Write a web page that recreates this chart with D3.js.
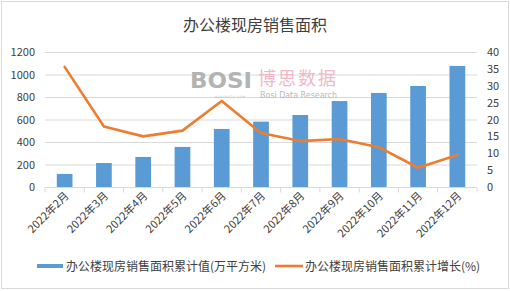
<!DOCTYPE html>
<html><head><meta charset="utf-8">
<script src="https://cdn.jsdelivr.net/npm/d3@7"></script>
<style>body{margin:0;background:#fff;}svg{display:block;font-family:"Microsoft YaHei","Noto Sans CJK SC",sans-serif;}</style>
</head><body>
<svg id="c" width="510" height="291"></svg>
<script>
const categories = ["2022年2月","2022年3月","2022年4月","2022年5月","2022年6月","2022年7月","2022年8月","2022年9月","2022年10月","2022年11月","2022年12月"];
const areaValues = [116, 213, 267, 356, 516, 581, 640, 764, 836, 898, 1076];
const growthValues = [35.6, 17.9, 15.0, 16.7, 25.5, 16.0, 13.6, 14.2, 11.8, 5.7, 9.5];
const leftTicks = [0,200,400,600,800,1000,1200];
const rightTicks = [0,5,10,15,20,25,30,35,40];
const title = "办公楼现房销售面积";
const seriesNames = ["办公楼现房销售面积累计值(万平方米)","办公楼现房销售面积累计增长(%)"];

const svg = d3.select("#c");
const W=510,H=291;
const m={l:45,r:477,t:52,b:187};
const blue="#5B9BD5", orange="#ED7D31";

svg.append("rect").attr("x",1.5).attr("y",1.5).attr("width",W-3).attr("height",H-4).attr("fill","#fff").attr("stroke","#D9D9D9");

svg.append("text").attr("x",W/2).attr("y",31).attr("text-anchor","middle").attr("font-size",16).attr("fill","#404040").text(title);

const x=d3.scaleBand().domain(categories).range([m.l,m.r]).paddingInner(0.6).paddingOuter(0.3);
const xb=d3.scaleBand().domain(categories).range([m.l,m.r]);
const yL=d3.scaleLinear().domain([0,1200]).range([m.b,m.t]);
const yR=d3.scaleLinear().domain([0,40]).range([m.b,m.t]);

// gridlines
svg.append("g").selectAll("line").data(leftTicks.slice(1)).join("line")
 .attr("x1",m.l).attr("x2",m.r).attr("y1",d=>yL(d)+0.5).attr("y2",d=>yL(d)+0.5).attr("stroke","#D9D9D9");

// watermark
const wm=svg.append("g");
wm.append("text").attr("x",190).attr("y",88).attr("font-size",22).attr("font-weight","bold").attr("fill","#b3b3b3").attr("font-family","DejaVu Sans, sans-serif").attr("textLength",62).attr("lengthAdjust","spacingAndGlyphs").text("BOSI");
wm.append("text").attr("x",215).attr("y",97.5).attr("font-size",3).attr("fill","#bbb").attr("font-family","DejaVu Sans").attr("textLength",30).text("BOSIDATA.COM");
wm.append("text").attr("x",258).attr("y",85).attr("font-size",18).attr("fill","#f0b8c8").attr("textLength",78).text("博思数据");
wm.append("text").attr("x",260).attr("y",98).attr("font-size",8).attr("fill","#b8b8b8").attr("font-family","DejaVu Sans, sans-serif").attr("textLength",77).attr("lengthAdjust","spacingAndGlyphs").text("Bosi Data Research");

// bars
svg.append("g").selectAll("rect").data(areaValues).join("rect")
 .attr("x",(d,i)=>x(categories[i])).attr("width",x.bandwidth())
 .attr("y",d=>yL(d)).attr("height",d=>yL(0)-yL(d)).attr("fill",blue);

// x axis line and ticks
const xa=svg.append("g").attr("transform",`translate(0,${m.b+0.5})`);
xa.append("line").attr("x1",m.l).attr("x2",m.r).attr("stroke","#D9D9D9");
xa.selectAll("line.t").data(categories.concat([null])).join("line").attr("class","t")
 .attr("x1",(d,i)=>m.l+i*xb.step()).attr("x2",(d,i)=>m.l+i*xb.step()).attr("y1",0).attr("y2",5).attr("stroke","#D9D9D9");
xa.selectAll("text").data(categories).join("text")
 .attr("transform",d=>`translate(${xb(d)+xb.bandwidth()/2+5},${9}) rotate(-45)`)
 .attr("text-anchor","end").attr("font-size",11).attr("fill","#404040").text(d=>d);

// line
const line=d3.line().x((d,i)=>xb(categories[i])+xb.bandwidth()/2).y(d=>yR(d));
svg.append("path").datum(growthValues).attr("d",line).attr("fill","none").attr("stroke",orange).attr("stroke-width",2.6).attr("stroke-linejoin","round").attr("stroke-linecap","round");

// axes labels
svg.append("g").selectAll("text").data(leftTicks).join("text")
 .attr("x",35).attr("y",d=>yL(d)+4).attr("text-anchor","end").attr("font-size",11).attr("fill","#404040").text(d=>d);
svg.append("g").selectAll("text").data(rightTicks).join("text")
 .attr("x",487).attr("y",d=>yR(d)+4).attr("text-anchor","start").attr("font-size",11).attr("fill","#404040").text(d=>d);

// legend
const lg=svg.append("g");
lg.append("rect").attr("x",37).attr("y",264).attr("width",26).attr("height",4).attr("fill",blue);
lg.append("text").attr("x",66).attr("y",270.5).attr("font-size",12).attr("fill","#404040").text(seriesNames[0]);
lg.append("line").attr("x1",275).attr("x2",303).attr("y1",266).attr("y2",266).attr("stroke",orange).attr("stroke-width",2.6);
lg.append("text").attr("x",305).attr("y",270.5).attr("font-size",12).attr("fill","#404040").text(seriesNames[1]);
</script>
</body></html>
